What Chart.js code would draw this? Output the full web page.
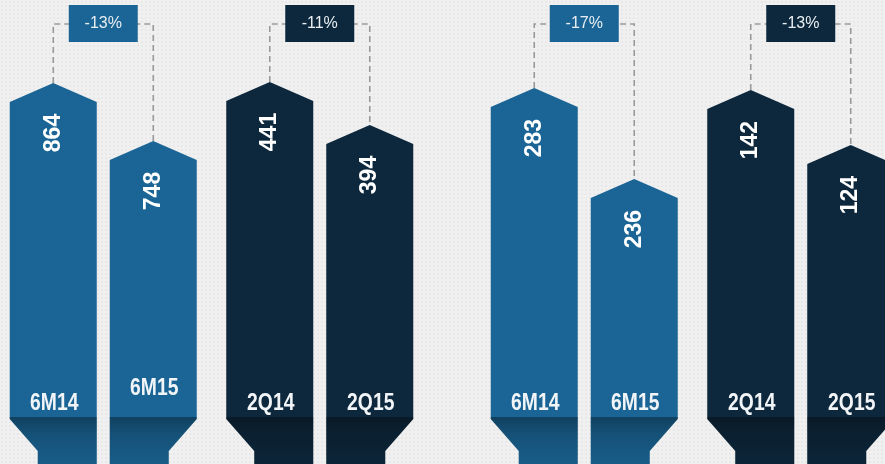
<!DOCTYPE html>
<html><head><meta charset="utf-8">
<script src="https://cdn.jsdelivr.net/npm/chart.js@4.4.1/dist/chart.umd.min.js"></script>
<style>
html,body{margin:0;padding:0;width:885px;height:464px;overflow:hidden;}
body{position:relative;background-color:#f0f0f0;background-image:radial-gradient(rgba(0,0,0,0.035) 1px, transparent 1.3px);background-size:4px 4px;}
canvas{position:absolute;top:0;}
#c1{left:-5px;}
#c2{left:476px;}
</style></head><body>
<canvas id="c1" width="433" height="464"></canvas>
<canvas id="c2" width="433" height="464"></canvas>
<script>
// ---- data ----
const pairCategories = ['6M', '2Q'];
const periodLabels = ['6M14', '6M15', '2Q14', '2Q15'];
const leftValues  = [864, 748, 441, 394];
const rightValues = [283, 236, 142, 124];

const BLUE = '#1a6595';
const DARK = '#0d283d';

function shapePath(ctx, x, y, w, bottom, taper) {
  const hw = w / 2, roof = 19, tY = 419, tIn = 28, tH = 32;
  ctx.beginPath();
  ctx.moveTo(x, y);
  ctx.lineTo(x + hw, y + roof);
  if (taper === 'right') { ctx.lineTo(x + hw, tY); ctx.lineTo(x + hw - tIn, tY + tH); ctx.lineTo(x + hw - tIn, bottom); }
  else ctx.lineTo(x + hw, bottom);
  if (taper === 'left') { ctx.lineTo(x - hw + tIn, bottom); ctx.lineTo(x - hw + tIn, tY + tH); ctx.lineTo(x - hw, tY); }
  else ctx.lineTo(x - hw, bottom);
  ctx.lineTo(x - hw, y + roof);
  ctx.closePath();
}

const shapePlugin = {
  id: 'shapes',
  afterDatasetsDraw(chart) {
    const ctx = chart.ctx;
    const bottom = chart.height + 2;
    const bars = [];
    chart.data.datasets.forEach((ds, i) => {
      const meta = chart.getDatasetMeta(i);
      meta.data.forEach((el, j) => {
        if (ds.data[j] == null) return;
        const p = el.getProps(['x', 'y', 'width'], true);
        bars.push({ ds, j, x: p.x, y: p.y, w: p.width, v: ds.data[j] });
      });
    });
    // connectors
    pairCategories.forEach((c, j) => {
      const pb = bars.filter(b => b.j === j);
      if (pb.length < 2) return;
      const a = pb[0], b = pb[1];
      ctx.save();
      ctx.strokeStyle = '#9a9a9a';
      ctx.lineWidth = 1.6;
      ctx.setLineDash([6, 4]);
      ctx.beginPath();
      ctx.moveTo(a.x, a.y);
      ctx.lineTo(a.x, 24);
      ctx.lineTo(b.x, 24);
      ctx.lineTo(b.x, b.y);
      ctx.stroke();
      ctx.restore();
    });
    // bars
    bars.forEach(b => {
      ctx.save();
      shapePath(ctx, b.x, b.y, b.w, bottom, b.ds.taper);
      ctx.fillStyle = b.ds.shapeColor;
      ctx.fill();
      ctx.clip();
      const g = ctx.createLinearGradient(0, 417, 0, bottom);
      g.addColorStop(0, 'rgba(0,0,0,0.36)');
      g.addColorStop(0.35, 'rgba(0,0,0,0.2)');
      g.addColorStop(1, 'rgba(0,0,0,0.08)');
      ctx.fillStyle = g;
      ctx.fillRect(b.x - b.w, 417, b.w * 2, bottom - 417);
      ctx.restore();
      // value text
      ctx.save();
      ctx.translate(b.x, b.y + 50);
      ctx.rotate(-Math.PI / 2);
      ctx.fillStyle = '#ffffff';
      ctx.font = 'bold 23px "Liberation Sans", Arial, sans-serif';
      ctx.textAlign = 'center';
      ctx.textBaseline = 'middle';
      ctx.fillText(String(b.v), 0, 0);
      ctx.restore();
      // period label
      ctx.save();
      ctx.translate(b.x + 1, b.ds.labelY);
      ctx.scale(0.84, 1);
      ctx.fillStyle = '#f2f5f8';
      ctx.font = 'bold 23px "Liberation Sans", Arial, sans-serif';
      ctx.textAlign = 'center';
      ctx.textBaseline = 'middle';
      ctx.fillText(b.ds.label, 0, 0);
      ctx.restore();
    });
    // boxes
    pairCategories.forEach((c, j) => {
      const pb = bars.filter(b => b.j === j);
      if (pb.length < 2) return;
      const a = pb[0], b = pb[1];
      const cx = (a.x + b.x) / 2;
      const pct = Math.round((b.v - a.v) / a.v * 100);
      ctx.save();
      ctx.fillStyle = a.ds.shapeColor;
      ctx.fillRect(cx - 34.5, 5, 69, 37);
      ctx.fillStyle = '#e9eef2';
      ctx.font = '16px "Liberation Sans", Arial, sans-serif';
      ctx.textAlign = 'center';
      ctx.textBaseline = 'middle';
      ctx.fillText((pct > 0 ? '+' : '') + pct + '%', cx, 24);
      ctx.restore();
    });
  }
};

function makeChart(id, values, axA, axB, secondLabelY) {
  const ds = (k, j, axis, taper, color, ly) => ({
    label: periodLabels[k],
    data: pairCategories.map((c, i) => i === j ? values[k] : null),
    yAxisID: axis,
    taper: taper,
    shapeColor: color,
    labelY: ly,
    backgroundColor: 'rgba(0,0,0,0)',
    borderWidth: 0
  });
  return new Chart(document.getElementById(id), {
    type: 'bar',
    data: {
      labels: pairCategories,
      datasets: [
        ds(0, 0, 'yA', 'left', BLUE, 404),
        ds(1, 0, 'yA', 'right', BLUE, secondLabelY),
        ds(2, 1, 'yB', 'left', DARK, 404),
        ds(3, 1, 'yB', 'right', DARK, 404)
      ]
    },
    options: {
      responsive: false,
      animation: false,
      devicePixelRatio: 1,
      layout: { padding: 0 },
      datasets: { bar: { skipNull: true, categoryPercentage: 200 / 216.5, barPercentage: 0.87 } },
      plugins: { legend: { display: false }, tooltip: { enabled: false } },
      scales: {
        x: { display: false, offset: true },
        yA: { display: false, position: 'left', min: axA[0], max: axA[1] },
        yB: { display: false, position: 'right', min: axB[0], max: axB[1] }
      }
    },
    plugins: [shapePlugin]
  });
}

makeChart('c1', leftValues, [102, 1030], [23.5, 530.6], 389);
makeChart('c2', rightValues, [88.8, 328.5], [19.6, 171.5], 404);
</script>
</body></html>
